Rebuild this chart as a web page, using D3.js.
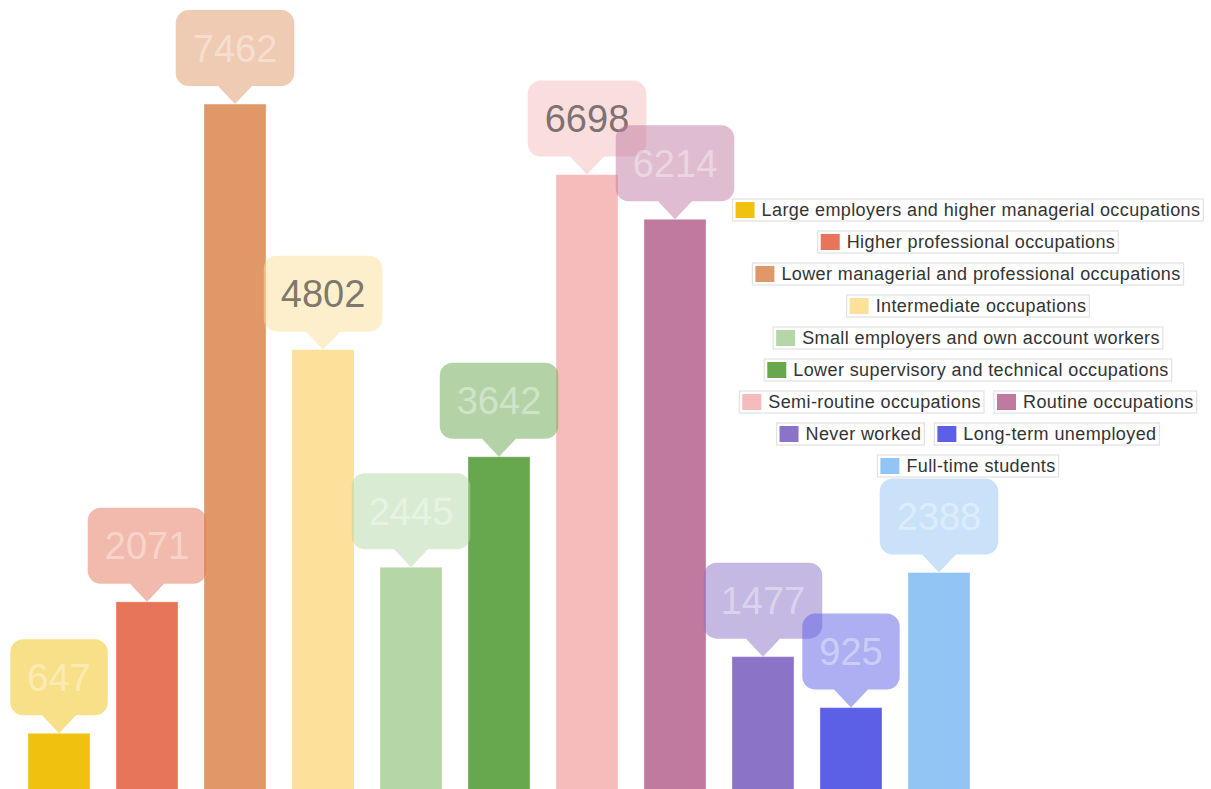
<!DOCTYPE html>
<html>
<head>
<meta charset="utf-8">
<script src="https://cdn.jsdelivr.net/npm/d3@7"></script>
<style>
  html, body { margin: 0; padding: 0; background: #fff; }
  .chart { width: 1211px; height: 789px; overflow: hidden; }
  text { font-family: "Liberation Sans", Arial, sans-serif; }
</style>
</head>
<body>
<div class="chart"></div>
<script>
// data
const categories = [
  'Large employers and higher managerial occupations',
  'Higher professional occupations',
  'Lower managerial and professional occupations',
  'Intermediate occupations',
  'Small employers and own account workers',
  'Lower supervisory and technical occupations',
  'Semi-routine occupations',
  'Routine occupations',
  'Never worked',
  'Long-term unemployed',
  'Full-time students'
];
const values = [647, 2071, 7462, 4802, 2445, 3642, 6698, 6214, 1477, 925, 2388];
const colors = ['#f0c20f', '#e6755a', '#e09868', '#fde09a', '#b5d7a8', '#67a84f',
                '#f6bcbc', '#c0799f', '#8b74c8', '#5b60e6', '#93c5f4'];

const width = d3.select('.chart').node().clientWidth;
const height = d3.select('.chart').node().clientHeight;
const svg = d3.select('.chart')
  .append('svg')
  .attr('width', width)
  .attr('height', height);

const x = d3.scaleBand()
  .domain(categories)
  .range([28, 970])
  .paddingInner(0.295)
  .paddingOuter(0);

const y = d3.scaleLinear()
  .domain([0, 8000])
  .range([793, 54.4]);

const color = d3.scaleOrdinal().domain(categories).range(colors);

const data = categories.map((c, i) => ({ name: c, value: values[i] }));

// bars
svg.append('g')
  .selectAll('rect')
  .data(data)
  .join('rect')
  .attr('x', d => x(d.name))
  .attr('y', d => y(d.value))
  .attr('width', x.bandwidth())
  .attr('height', d => y(0) - y(d.value))
  .attr('fill', d => color(d.name))
  .attr('stroke', 'rgba(255,255,255,0.35)')
  .attr('stroke-width', 1);

// value callouts
const boxH = 76, tipH = 18, tipW = 17, rad = 13, padX = 17;
const labels = svg.append('g').selectAll('g')
  .data(data)
  .join('g')
  .attr('transform', d => `translate(${x(d.name) + x.bandwidth() / 2},${y(d.value)})`);

labels.each(function (d) {
  const g = d3.select(this);
  const t = g.append('text')
    .attr('text-anchor', 'middle')
    .attr('font-size', 38)
    .attr('y', -tipH - boxH / 2)
    .attr('dy', '0.36em')
    .text(d.value);
  const w = t.node().getComputedTextLength() + padX * 2;
  const hw = w / 2, top = -tipH - boxH, bot = -tipH;
  const p = d3.path();
  p.moveTo(-hw + rad, top);
  p.lineTo(hw - rad, top);
  p.arcTo(hw, top, hw, top + rad, rad);
  p.lineTo(hw, bot - rad);
  p.arcTo(hw, bot, hw - rad, bot, rad);
  p.lineTo(tipW, bot);
  p.lineTo(0, 0);
  p.lineTo(-tipW, bot);
  p.lineTo(-hw + rad, bot);
  p.arcTo(-hw, bot, -hw, bot - rad, rad);
  p.lineTo(-hw, top + rad);
  p.arcTo(-hw, top, -hw + rad, top, rad);
  p.closePath();
  g.insert('path', 'text')
    .attr('d', p.toString())
    .attr('fill', color(d.name))
    .attr('fill-opacity', 0.5);
  const light = d3.hsl(color(d.name)).l > 0.78;
  t.attr('fill', light ? '#333' : '#fff')
    .attr('fill-opacity', light ? 0.65 : 0.4);
});

// legend, wrapped into centred rows
const legendCx = 968, legendTop = 199, rowStep = 32, maxRow = 480, gap = 10;
const lg = svg.append('g');
const items = data.map(d => {
  const g = lg.append('g');
  const box = g.append('rect')
    .attr('fill', '#fff')
    .attr('stroke', '#e2e2e2')
    .attr('stroke-width', 1.2);
  g.append('rect')
    .attr('x', 3).attr('y', 3)
    .attr('width', 19).attr('height', 16)
    .attr('fill', color(d.name));
  const t = g.append('text')
    .attr('x', 29).attr('y', 11)
    .attr('dy', '0.36em')
    .attr('font-size', 18)
    .attr('letter-spacing', 0.4)
    .attr('fill', '#333')
    .text(d.name);
  const w = 29 + t.node().getComputedTextLength() + 3;
  box.attr('width', w).attr('height', 22);
  return { g, w };
});

const rows = [];
items.forEach(it => {
  const row = rows[rows.length - 1];
  if (row && row.w + gap + it.w <= maxRow) {
    row.items.push(it);
    row.w += gap + it.w;
  } else {
    rows.push({ items: [it], w: it.w });
  }
});
rows.forEach((row, r) => {
  let cx = legendCx - row.w / 2;
  row.items.forEach(it => {
    it.g.attr('transform', `translate(${cx},${legendTop + r * rowStep})`);
    cx += it.w + gap;
  });
});
</script>
</body>
</html>
